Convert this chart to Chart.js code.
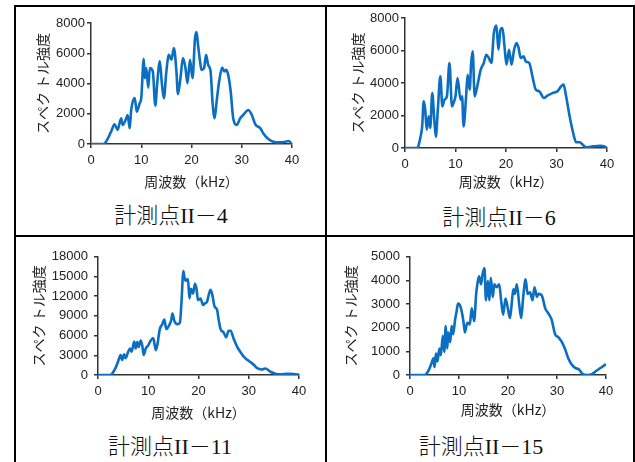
<!DOCTYPE html>
<html>
<head>
<meta charset="utf-8">
<script src="https://cdn.jsdelivr.net/npm/chart.js@4.4.1/dist/chart.umd.min.js"></script>
<style>
  body { margin: 0; background: #fff; width: 635px; height: 462px; position: relative; overflow: hidden; }
  .ln { position: absolute; background: #000; }
  canvas { position: absolute; }
  .cap { position: absolute; width: 200px; text-align: center; font-size: 22px; line-height: 22px; font-weight: 300;
         font-family: "Liberation Serif", "Noto Sans CJK JP"; color: #111; }
</style>
</head>
<body>
<div class="ln" style="left:14px;top:5px;width:2px;height:457px"></div>
<div class="ln" style="left:14px;top:5px;width:621px;height:2px"></div>
<div class="ln" style="left:633px;top:5px;width:2px;height:457px"></div>
<div class="ln" style="left:325px;top:5px;width:2px;height:457px"></div>
<div class="ln" style="left:14px;top:235px;width:621px;height:2px"></div>

<canvas id="c1" width="276" height="178" style="left:34px;top:12px"></canvas>
<canvas id="c2" width="276" height="182" style="left:349px;top:8px"></canvas>
<canvas id="c3" width="287" height="178" style="left:30px;top:243px"></canvas>
<canvas id="c4" width="282" height="175" style="left:342px;top:243px"></canvas>

<div class="cap" style="left:71px;top:205px">計測点II－4</div>
<div class="cap" style="left:399px;top:207px">計測点II－6</div>
<div class="cap" style="left:70px;top:436px">計測点II－11</div>
<div class="cap" style="left:381px;top:436px">計測点II－15</div>

<script>
// spectra (kHz / intensity)
const freq1 = [0, 2.5, 3.0, 3.7, 4.0, 4.7, 5.3, 6.0, 6.3, 6.9, 7.3, 7.7, 8.0, 8.7, 9.1, 9.7, 10.0, 10.5, 10.7, 11.0,
  11.4, 11.7, 12.3, 12.8, 13.2, 13.7, 14.1, 14.5, 15.0, 15.5, 16.0, 16.5, 17.0, 17.3, 17.8, 18.3, 18.8, 19.2, 19.7, 20.2,
  20.7, 21.0, 21.3, 21.7, 22.0, 22.5, 22.9, 23.3, 23.8, 24.2, 24.6, 25.0, 25.5, 26.1, 26.5, 26.9, 27.3, 27.8, 28.3, 29.0,
  29.7, 30.3, 31.3, 32.0, 32.7, 33.7, 34.3, 35.3, 36.3, 37.3, 38.7, 39.3, 40.0];
const spec1 = [0, 0, 150, 600, 820, 1300, 930, 1700, 1260, 1600, 1920, 1040, 2250, 3030, 2140, 2700, 3030, 5640, 4350, 5020,
  3730, 5020, 4800, 2540, 4130, 5460, 4020, 3030, 4800, 5900, 5570, 6340, 4800, 3300, 4350, 5680, 5020, 4020, 5570, 4350,
  7000, 7400, 6560, 5460, 4900, 5020, 5900, 5240, 4800, 2700, 1700, 2800, 4130, 5060, 4800, 4900, 4570, 3470, 1700, 1260,
  1700, 1920, 2250, 1920, 1300, 1040, 700, 330, 150, 110, 150, 200, 0];

const freq2 = [0, 2.5, 2.8, 3.1, 3.4, 3.7, 4.0, 4.3, 4.7, 5.0, 5.4, 5.8, 6.1, 6.5, 7.0, 7.4, 7.8, 8.3, 8.8, 9.3,
  9.6, 10.0, 10.4, 11.0, 11.3, 11.6, 12.1, 12.4, 12.8, 13.1, 13.4, 13.8, 14.3, 15.0, 15.6, 16.1, 16.6, 17.1, 17.6, 18.1,
  18.5, 18.9, 19.3, 19.7, 20.1, 20.6, 21.1, 21.6, 22.1, 22.5, 22.9, 23.5, 23.9, 24.6, 25.3, 25.9, 26.6, 27.5, 28.2, 29.2,
  30.2, 30.9, 31.4, 31.9, 32.6, 33.3, 33.9, 34.6, 35.2, 35.9, 37.2, 38.6, 39.5, 40.0];
const spec2 = [0, 0, 300, 720, 1330, 2870, 2360, 1130, 1950, 1230, 3380, 1740, 680, 2360, 4410, 2560, 2970, 3180, 5230, 2560,
  2770, 3180, 4310, 2970, 3180, 1330, 3180, 4510, 3590, 5230, 5950, 3180, 3790, 4820, 5230, 5740, 5540, 5230, 7080, 7530,
  6050, 7280, 7380, 6260, 5130, 6050, 5130, 6050, 6460, 6150, 5540, 5640, 5330, 5230, 4310, 3590, 3490, 3080, 3220, 3380,
  3490, 3790, 3900, 3180, 1950, 920, 350, 350, 200, 40, 100, 140, 100, 0];

const freq3 = [0, 2.5, 2.8, 3.5, 4.0, 4.5, 4.8, 5.2, 5.5, 6.0, 6.4, 6.7, 7.2, 7.5, 7.8, 8.1, 8.5, 8.8, 9.1, 9.5,
  10.0, 10.5, 11.0, 11.5, 11.8, 12.3, 12.8, 13.2, 13.6, 14.1, 14.6, 14.8, 15.2, 15.8, 16.3, 16.6, 17.0, 17.2, 17.5, 17.9,
  18.2, 18.5, 18.9, 19.3, 19.6, 19.9, 20.4, 20.9, 21.3, 21.7, 22.1, 22.4, 22.7, 23.2, 23.7, 24.0, 24.4, 25.0, 25.5, 26.0,
  26.4, 27.0, 27.7, 28.3, 29.0, 29.7, 30.3, 31.0, 31.6, 32.6, 33.3, 34.3, 35.3, 36.3, 37.7, 39.0, 40.0];
const spec3 = [0, 0, 200, 1080, 2070, 3050, 2310, 3150, 2560, 3540, 4030, 3540, 5110, 4030, 5020, 4280, 5260, 4520, 3050, 4030,
  4520, 5260, 5610, 3790, 4520, 6980, 7720, 8460, 6980, 7480, 8460, 9340, 8210, 7720, 7970, 10920, 15840, 14850, 14360, 14610,
  11660, 13130, 12390, 13870, 13130, 11410, 11660, 10670, 10920, 11160, 12390, 12980, 12390, 10430, 9930, 8460, 6980, 6490, 5750, 6740,
  6740, 5510, 4280, 3540, 2800, 2310, 1970, 1570, 1080, 840, 980, 490, 200, 100, 200, 150, 50];

const freq4 = [0, 3.0, 3.7, 4.3, 4.8, 5.0, 5.3, 5.6, 6.0, 6.3, 6.7, 7.0, 7.3, 7.6, 7.8, 8.2, 8.5, 8.8, 9.2, 9.5,
  9.8, 10.3, 10.9, 11.2, 11.7, 12.2, 12.6, 13.1, 13.5, 13.8, 14.1, 14.5, 14.8, 15.2, 15.5, 15.9, 16.2, 16.5, 16.9, 17.2,
  17.7, 18.2, 18.6, 19.0, 19.5, 19.9, 20.4, 20.7, 21.1, 21.4, 21.8, 22.3, 22.7, 23.1, 23.6, 24.0, 24.5, 25.0, 25.4, 25.9,
  26.2, 26.9, 27.6, 28.2, 28.9, 29.6, 30.3, 31.0, 31.6, 32.3, 33.0, 33.7, 34.5, 35.2, 36.1, 37.1, 38.1, 39.1, 40.0];
const spec4 = [0, 0, 160, 440, 710, 330, 910, 570, 1120, 840, 1660, 980, 2070, 1120, 1800, 1390, 2070, 1730, 2340, 2680,
  3020, 2890, 2280, 1800, 2210, 2140, 2820, 2280, 3430, 3910, 4180, 3840, 4250, 4520, 3160, 3980, 3160, 4110, 3300, 3840,
  3710, 3840, 3160, 2550, 3230, 2890, 2410, 2890, 3640, 3430, 3840, 2960, 2410, 3300, 4050, 3430, 3500, 3160, 3710, 3300,
  3430, 3360, 2820, 2620, 2340, 1730, 1590, 1390, 1120, 710, 440, 300, 230, 50, 0, 30, 190, 330, 460];

const xTicks = [0, 10, 20, 30, 40];
const yLabel = 'スペク トル強度';
const xLabel = '周波数（kHz）';

// canvas box and where the plot area should land
const panels = [
  { id: 'c1', freq: freq1, spec: spec1, yMax: 8000, yStep: 2000, box: [34, 12, 276, 178], plot: [91, 23, 292, 144], yPad: 2 },
  { id: 'c2', freq: freq2, spec: spec2, yMax: 8000, yStep: 2000, box: [349, 8, 276, 182], plot: [405, 18, 607, 148], yPad: 2 },
  { id: 'c3', freq: freq3, spec: spec3, yMax: 18000, yStep: 3000, box: [30, 243, 287, 178], plot: [98, 253, 299, 375], yPad: 6 },
  { id: 'c4', freq: freq4, spec: spec4, yMax: 5000, yStep: 1000, box: [342, 243, 282, 175], plot: [410, 253, 606, 375], yPad: 6 }
];

const tickFont = { family: 'Liberation Sans, Arial', size: 13 };
const titleFont = { family: 'Noto Sans CJK JP', size: 14 };

panels.forEach(p => {
  const [cx, cy, cw, ch] = p.box;
  const [L, T, R, B] = p.plot;
  new Chart(document.getElementById(p.id), {
    type: 'line',
    data: {
      datasets: [{
        data: p.freq.map((f, i) => ({ x: f, y: p.spec[i] })),
        borderColor: '#0a6fc2',
        borderWidth: 2.6,
        pointRadius: 0,
        cubicInterpolationMode: 'monotone',
        fill: false
      }]
    },
    options: {
      responsive: false,
      animation: false,
      layout: { padding: { left: 0, top: T - cy, right: cx + cw - R, bottom: 0 } },
      plugins: { legend: { display: false }, tooltip: { enabled: false } },
      scales: {
        x: {
          type: 'linear', min: 0, max: 40,
          afterBuildTicks: s => { s.ticks = xTicks.map(v => ({ value: v })); },
          afterFit: s => { s.height = cy + ch - B; },
          ticks: { padding: 5, color: '#222', font: tickFont, maxRotation: 0, callback: v => String(v) },
          grid: { drawOnChartArea: false, tickLength: 4, color: '#333', lineWidth: 1.5 },
          border: { color: '#333', width: 1.5 },
          title: { display: true, text: xLabel, color: '#222', font: titleFont, padding: 0 }
        },
        y: {
          min: 0, max: p.yMax,
          afterFit: s => { s.width = L - cx; },
          ticks: { stepSize: p.yStep, padding: p.yPad, color: '#222', font: tickFont, callback: v => String(v) },
          grid: { drawOnChartArea: false, tickLength: 4, color: '#333', lineWidth: 1.5 },
          border: { color: '#333', width: 1.5 },
          title: { display: true, text: yLabel, color: '#222', font: titleFont, padding: 0 }
        }
      }
    }
  });
});
</script>
</body>
</html>
